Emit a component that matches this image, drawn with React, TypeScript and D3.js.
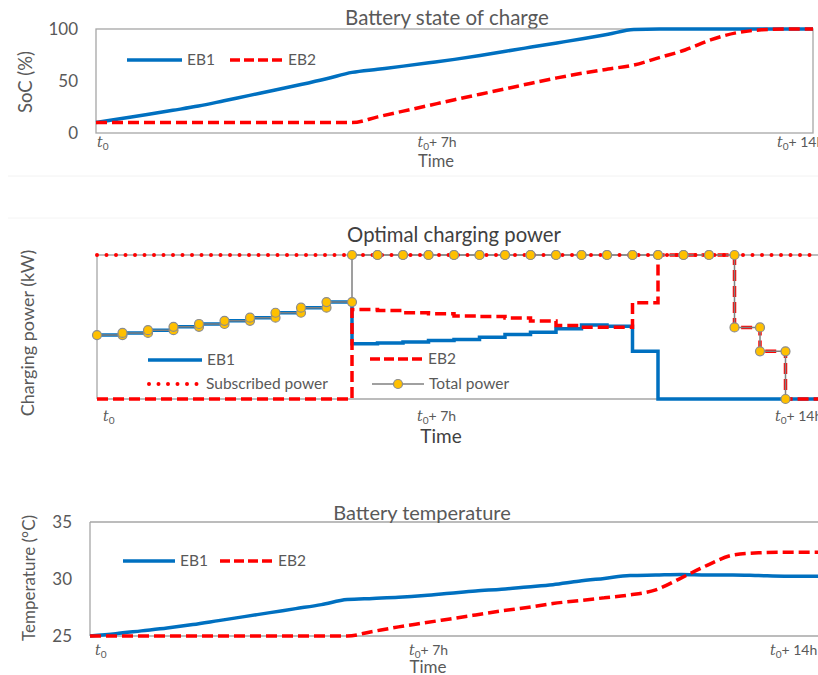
import React from 'react';
import * as d3 from 'd3';

// ---------- DATA ----------
// half-hour steps, hours after t0
const timeH = [0, 0.5, 1, 1.5, 2, 2.5, 3, 3.5, 4, 4.5, 5, 5.5, 6, 6.5, 7, 7.5, 8, 8.5, 9, 9.5, 10, 10.5, 11, 11.5, 12, 12.5, 13, 13.5, 14];
const timeExt = [0, 0.5, 1, 1.5, 2, 2.5, 3, 3.5, 4, 4.5, 5, 5.5, 6, 6.5, 7, 7.5, 8, 8.5, 9, 9.5, 10, 10.5, 11, 11.5, 12, 12.5, 13, 13.5, 14, 14.5];

const socEB1 = [10, 13.9, 17.8, 21.8, 25.9, 31.0, 36.2, 41.3, 46.6, 52.2, 58.3, 61.3, 64.3, 67.5, 70.8, 74.5, 78.6, 82.6, 86.6, 90.6, 95.0, 99.5, 100, 100, 100, 100, 100, 100, 100];
const socEB2 = [10, 10, 10, 10, 10, 10, 10, 10, 10, 10, 10, 15.5, 21, 26.5, 32, 37.3, 42.5, 47.9, 53, 57.5, 61.5, 65.3, 72.5, 79.8, 89.5, 96.3, 99.2, 100, 100];

// charging power levels held over each half-hour (subscribed power = 100)
const powerEB1 = [44.4, 45.9, 47.8, 50.1, 52.1, 54.3, 56.5, 59.9, 63.4, 67.3, 38.3, 38.9, 39.5, 40.6, 41.3, 42.9, 44.8, 46.4, 48.7, 51.4, 50.6, 33.1, 0, 0, 0, 0, 0, 0, 0];
const powerEB2 = [0, 0, 0, 0, 0, 0, 0, 0, 0, 0, 62.2, 61.5, 59.9, 59.2, 57.6, 57.3, 56.2, 54.1, 51.0, 49.9, 49.9, 66.9, 100, 100, 100, 49.7, 33.1, 0, 0];
const powerTotal = [44.4, 45.9, 47.8, 50.1, 52.1, 54.3, 56.5, 59.9, 63.4, 67.3, 100, 100, 100, 100, 100, 100, 100, 100, 100, 100, 100, 100, 100, 100, 100, 49.7, 33.1, 0];
const subscribedPower = 100;

const tempEB1 = [25.0, 25.2, 25.45, 25.7, 26.0, 26.35, 26.7, 27.05, 27.4, 27.75, 28.2, 28.3, 28.4, 28.55, 28.75, 28.95, 29.1, 29.3, 29.5, 29.8, 30.05, 30.3, 30.35, 30.4, 30.35, 30.35, 30.3, 30.25, 30.25, 30.25];
const tempEB2 = [25, 25, 25, 25, 25, 25, 25, 25, 25, 25, 25, 25.4, 25.8, 26.15, 26.5, 26.85, 27.2, 27.5, 27.85, 28.1, 28.35, 28.6, 29.05, 30.1, 31.2, 32.1, 32.3, 32.35, 32.35, 32.35];

const xTickHours = [0, 7, 14];
const xTickSuffix = ['', '+ 7h', '+ 14h'];
const socTicks = [0, 50, 100];
const tempTicks = [25, 30, 35];

// ---------- STYLE ----------
const FONT = 'Lato, "Open Sans", sans-serif';
const TXT = '#595959';
const DARK = '#404040';
const AXIS = '#a6a6a6';
const BLUE = '#0070C0';
const RED = '#FF0000';

type Pt = [number, number];

function TimeLabel({ x, y, suffix, size }: { x: number; y: number; suffix: string; size: number }) {
  return (
    <text x={x} y={y} fontSize={size} fill={TXT} fontFamily={FONT}>
      <tspan fontStyle="italic" fontFamily='"DejaVu Serif", serif'>t</tspan>
      <tspan fontSize={size * 0.72} dy={3}>0</tspan>
      {suffix ? <tspan dy={-3}>{suffix}</tspan> : null}
    </text>
  );
}

function LegendLine({ x1, x2, y, color, dash, width, label, size = 15.5 }: any) {
  return (
    <g>
      <line x1={x1} x2={x2} y1={y} y2={y} stroke={color} strokeWidth={width} strokeDasharray={dash} strokeLinecap={dash && dash.startsWith('0') ? 'round' : 'butt'} />
      <text x={x2 + 5} y={y + 5} fontSize={size} fill={TXT} fontFamily={FONT}>{label}</text>
    </g>
  );
}

export default function App() {
  // ---- Panel 1: SoC ----
  const x1 = d3.scaleLinear().domain([0, 14]).range([96, 813]);
  const y1 = d3.scaleLinear().domain([0, 100]).range([133, 29]);
  const smooth1 = d3.line<Pt>().x(d => x1(d[0])).y(d => y1(d[1])).curve(d3.curveMonotoneX);
  const soc1 = smooth1(timeH.map((t, i) => [t, socEB1[i]] as Pt)) || '';
  const soc2 = smooth1(timeH.map((t, i) => [t, socEB2[i]] as Pt)) || '';

  // ---- Panel 2: power ----
  const x2 = d3.scaleLinear().domain([0, 14]).range([97, 811]);
  const y2 = d3.scaleLinear().domain([0, 100]).range([399, 255]);
  const stepLine = d3.line<Pt>().x(d => x2(d[0])).y(d => y2(d[1])).curve(d3.curveStepAfter);
  const stepPts = (lv: number[]) => {
    const pts: Pt[] = lv.map((v, i) => [timeExt[i], v] as Pt);
    pts.push([timeExt[lv.length], lv[lv.length - 1]]);
    return pts;
  };
  const p1 = stepLine(stepPts(powerEB1)) || '';
  const p2 = stepLine(stepPts(powerEB2)) || '';
  const totPts: Pt[] = [];
  powerTotal.forEach((v, i) => {
    if (i > 0) totPts.push([timeH[i], powerTotal[i - 1]]);
    totPts.push([timeH[i], v]);
  });
  const linear2 = d3.line<Pt>().x(d => x2(d[0])).y(d => y2(d[1]));
  const pTot = linear2(totPts) || '';

  // ---- Panel 3: temperature ----
  const x3 = d3.scaleLinear().domain([0, 14]).range([90, 810]);
  const y3 = d3.scaleLinear().domain([25, 35]).range([636, 522]);
  const smooth3 = d3.line<Pt>().x(d => x3(d[0])).y(d => y3(d[1])).curve(d3.curveMonotoneX);
  const t1 = smooth3(timeExt.map((t, i) => [t, tempEB1[i]] as Pt)) || '';
  const t2 = smooth3(timeExt.map((t, i) => [t, tempEB2[i]] as Pt)) || '';

  const tickDx = [1, -37, -36];

  return (
    <svg width={818} height={675} style={{ position: 'absolute', left: 0, top: 0, background: '#fff' }} fontFamily={FONT}>
      <defs>
        <clipPath id="c2"><rect x={90} y={240} width={728} height={170} /></clipPath>
        <clipPath id="c3"><rect x={85} y={510} width={733} height={135} /></clipPath>
      </defs>
      {/* faint separators */}
      <line x1={8} x2={818} y1={176} y2={176} stroke="#f2f2f2" strokeWidth={1} />
      <line x1={8} x2={818} y1={218} y2={218} stroke="#f4f4f4" strokeWidth={1} />

      {/* ===== Panel 1 ===== */}
      <text x={447} y={25} textAnchor="middle" fontSize={20.5} fill={TXT}>Battery state of charge</text>
      <rect x={x1(0)} y={y1(100)} width={x1(14) - x1(0)} height={y1(0) - y1(100)} fill="none" stroke={AXIS} strokeWidth={1.3} />
      {socTicks.map(v => (
        <text key={v} x={78} y={y1(v)} dy="0.36em" textAnchor="end" fontSize={17} fill={TXT}>{v}</text>
      ))}
      <text transform={`translate(25,82) rotate(-90)`} textAnchor="middle" dominantBaseline="central" fontSize={18.5} fill={TXT}>SoC (%)</text>
      {xTickHours.map((h, i) => (
        <TimeLabel key={h} x={x1(h) + tickDx[i]} y={147} suffix={xTickSuffix[i]} size={14} />
      ))}
      <text x={436} y={167} textAnchor="middle" fontSize={16.5} fill={TXT}>Time</text>
      <path d={soc1} fill="none" stroke={BLUE} strokeWidth={3.5} />
      <path d={soc2} fill="none" stroke={RED} strokeWidth={3.5} strokeDasharray="11 5" />
      <LegendLine x1={127} x2={182} y={60} color={BLUE} width={3.5} label="EB1" />
      <LegendLine x1={230} x2={283} y={60} color={RED} width={3.5} dash="10 4" label="EB2" />

      {/* ===== Panel 2 ===== */}
      <text x={454} y={242} textAnchor="middle" fontSize={20.3} fill={DARK}>Optimal charging power</text>
      <line x1={x2(0)} x2={818} y1={y2(100)} y2={y2(100)} stroke={AXIS} strokeWidth={1.3} />
      <line x1={x2(0)} x2={818} y1={y2(0)} y2={y2(0)} stroke={AXIS} strokeWidth={1.3} />
      <line x1={x2(0)} x2={x2(0)} y1={y2(100)} y2={y2(0)} stroke={AXIS} strokeWidth={1.3} />
      <text transform={`translate(27,333) rotate(-90)`} textAnchor="middle" dominantBaseline="central" fontSize={18} fill={TXT}>Charging power (kW)</text>
      {xTickHours.map((h, i) => (
        <TimeLabel key={h} x={x2(h) + (i === 0 ? 6 : tickDx[i])} y={421} suffix={xTickSuffix[i]} size={14} />
      ))}
      <text x={441} y={443} textAnchor="middle" fontSize={19} fill={DARK}>Time</text>
      <g clipPath="url(#c2)">
        <path d={p1} fill="none" stroke={BLUE} strokeWidth={3.5} />
        <path d={p2} fill="none" stroke={RED} strokeWidth={3.5} strokeDasharray="11 5" />
        <path d={pTot} fill="none" stroke="#808080" strokeWidth={1.5} />
        <line x1={x2(0)} x2={818} y1={y2(subscribedPower)} y2={y2(subscribedPower)} stroke={RED} strokeWidth={4} strokeDasharray="0 9.5" strokeLinecap="round" />
        {totPts.map((d, i) => (
          <circle key={i} cx={x2(d[0])} cy={y2(d[1])} r={4.5} fill="#FFC000" stroke="#8c8c8c" strokeWidth={1.2} />
        ))}
      </g>
      <LegendLine x1={148} x2={202} y={360} color={BLUE} width={3.5} label="EB1" />
      <LegendLine x1={370} x2={423} y={359} color={RED} width={3.5} dash="10 4" label="EB2" />
      <LegendLine x1={149} x2={201} y={384} color={RED} width={4} dash="0 9.5" label="Subscribed power" />
      <LegendLine x1={372} x2={424} y={384} color="#808080" width={1.5} label="Total power" />
      <circle cx={398} cy={384} r={4.5} fill="#FFC000" stroke="#8c8c8c" strokeWidth={1.2} />

      {/* ===== Panel 3 ===== */}
      <line x1={x3(0)} x2={818} y1={y3(35)} y2={y3(35)} stroke={AXIS} strokeWidth={1.3} />
      <line x1={x3(0)} x2={818} y1={y3(25)} y2={y3(25)} stroke={AXIS} strokeWidth={1.3} />
      <line x1={x3(0)} x2={x3(0)} y1={y3(35)} y2={y3(25)} stroke={AXIS} strokeWidth={1.3} />
      <text x={422} y={520} textAnchor="middle" fontSize={20} fill={TXT}>Battery temperature</text>
      {tempTicks.map(v => (
        <text key={v} x={72} y={y3(v)} dy="0.36em" textAnchor="end" fontSize={17} fill={TXT}>{v}</text>
      ))}
      <text transform={`translate(28,578) rotate(-90)`} textAnchor="middle" dominantBaseline="central" fontSize={17} fill={TXT}>Temperature (°C)</text>
      {xTickHours.map((h, i) => (
        <TimeLabel key={h} x={x3(h) + (i === 0 ? 5 : tickDx[i] - 4)} y={655} suffix={xTickSuffix[i]} size={14} />
      ))}
      <text x={428} y={673} textAnchor="middle" fontSize={17} fill={TXT}>Time</text>
      <g clipPath="url(#c3)">
        <path d={t1} fill="none" stroke={BLUE} strokeWidth={3.5} />
        <path d={t2} fill="none" stroke={RED} strokeWidth={3.5} strokeDasharray="11 5" />
      </g>
      <LegendLine x1={123} x2={175} y={561} color={BLUE} width={3.5} label="EB1" />
      <LegendLine x1={220} x2={273} y={561} color={RED} width={3.5} dash="10 4" label="EB2" />
    </svg>
  );
}
